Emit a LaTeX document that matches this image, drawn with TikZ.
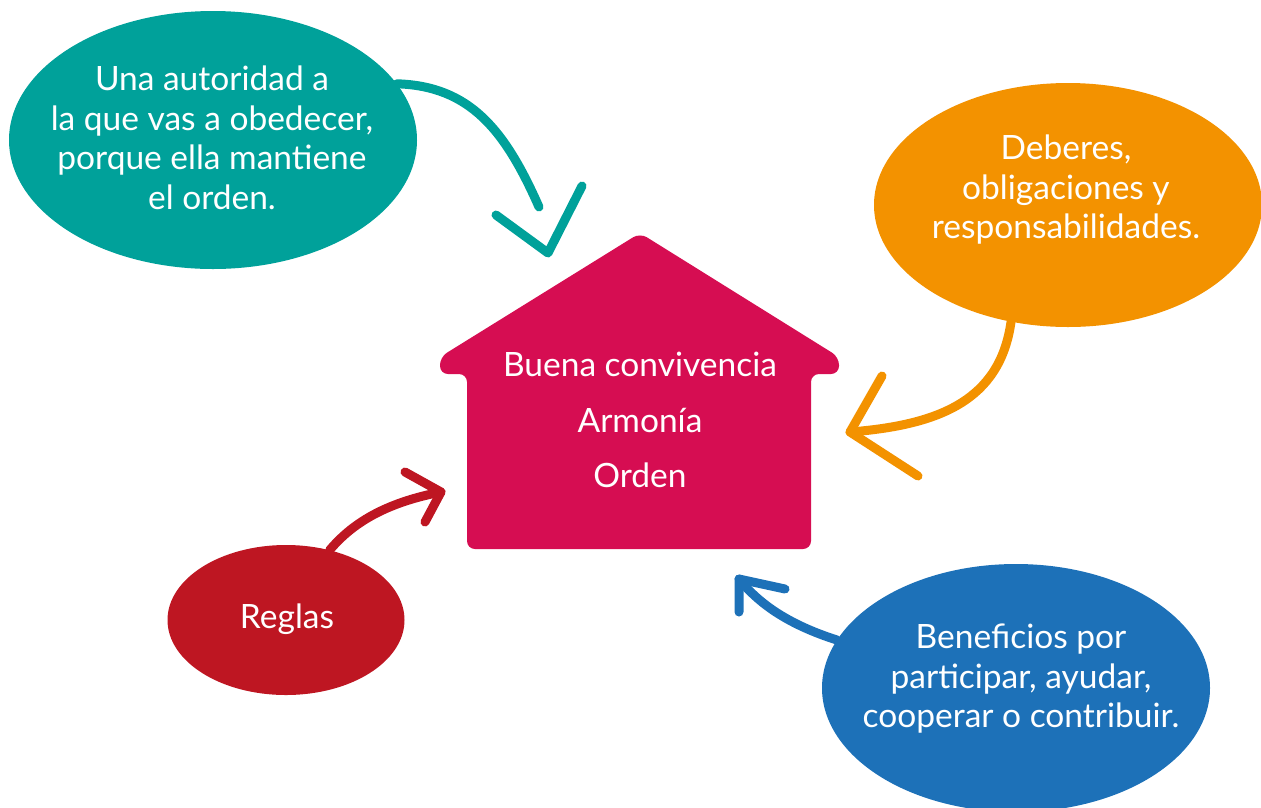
\documentclass[tikz,border=0pt]{standalone}
\usepackage{fontspec}
\setmainfont{Lato}
\usetikzlibrary{shapes.geometric}

\definecolor{tealbubble}{HTML}{00A19A}
\definecolor{orangebubble}{HTML}{F39200}
\definecolor{redbubble}{HTML}{BE1622}
\definecolor{bluebubble}{HTML}{1D71B8}
\definecolor{housepink}{HTML}{D60D52}

\begin{document}
\begin{tikzpicture}[
    x=1pt, y=-1pt, % one unit is one pixel of the sketch, y grows downwards
    bubble/.style={ellipse, inner sep=0pt},
    bubbletext/.style={text=white, align=center, font=\fontsize{33.5}{39.5}\selectfont},
    housetext/.style={text=white, align=center, font=\fontsize{33.5}{55.5}\selectfont},
    shaft/.style={line width=9pt, line cap=round},
    arrowhead/.style={line width=9pt, line cap=round, line join=round}
]
\useasboundingbox (0,0) rectangle (1261,807);

% Bubbles
\node (aut) [bubble, fill=tealbubble, minimum width=408pt, minimum height=258pt] at (213,140) {};
\node (ded) [bubble, fill=orangebubble, minimum width=388pt, minimum height=244pt] at (1068,205) {};
\node (reg) [bubble, fill=redbubble, minimum width=237pt, minimum height=150pt] at (286,620) {};
\node (ben) [bubble, fill=bluebubble, minimum width=388pt, minimum height=248pt] at (1016,688) {};

% Bubble texts
\node (aut_txt) [bubbletext] at (212,138) {Una autoridad a\\la que vas a obedecer,\\porque ella mantiene\\el orden.};
\node (ded_txt) [bubbletext] at (1066,190) {Deberes,\\obligaciones y\\responsabilidades.};
\node (reg_txt) [bubbletext] at (287,619) {Reglas};
\node (ben_txt) [bubbletext] at (1021,679) {Beneficios por\\participar, ayudar,\\cooperar o contribuir.};

% House
\fill[housepink, rounded corners=8pt] (640,233) -- (440,357) -- (440,374) -- (467,374)
    -- (467,549) -- (811,549) -- (811,374) -- (839,374) -- (839,357) -- cycle;
\node (house_txt) [housetext] at (640,420) {Buena convivencia\\Armonía\\Orden};

% Arrow ends
\coordinate (aut_end) at (539,207);
\coordinate (aut_tip) at (548,253);
\coordinate (ded_tip) at (850,432);
\coordinate (reg_tip) at (441,492);
\coordinate (ben_tip) at (739,579);

% Arrows from the bubbles to the house
\draw[shaft, tealbubble] (aut.17) .. controls (470,86) and (505,130) .. (aut_end);
\draw[arrowhead, tealbubble] (496,215) -- (aut_tip) -- (582,186);

\draw[shaft, orangebubble] (ded.244) .. controls (1000,400) and (940,425) .. (ded_tip);
\draw[arrowhead, orangebubble] (882,376) -- (ded_tip) -- (918,476);

\draw[shaft, redbubble] (reg.58) .. controls (355,520) and (390,502) .. (reg_tip);
\draw[arrowhead, redbubble] (405,472) -- (reg_tip) -- (425,522);

\draw[shaft, bluebubble] (ben.165) .. controls (790,625) and (760,605) .. (ben_tip);
\draw[arrowhead, bluebubble] (785,589) -- (ben_tip) -- (739,612);

\end{tikzpicture}
\end{document}
